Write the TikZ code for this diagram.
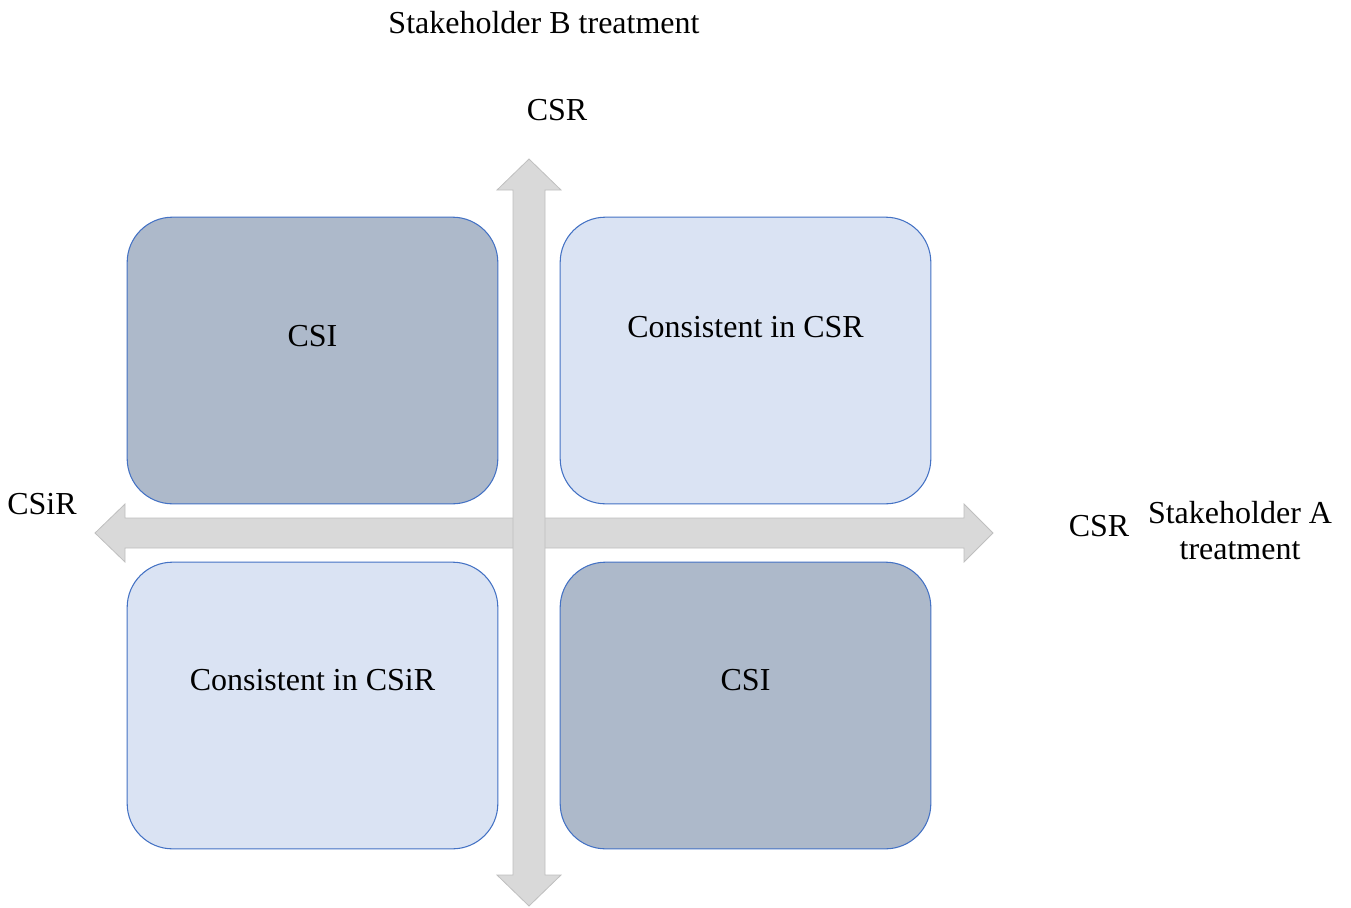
\documentclass[tikz,border=0pt]{standalone}
\usepackage{fontspec}
\setmainfont{Liberation Serif}
\usepackage{xcolor}
\definecolor{quaddark}{RGB}{173, 185, 202}
\definecolor{quadlight}{RGB}{218, 227, 243}
\definecolor{quadedge}{RGB}{68, 114, 196}
\definecolor{axisfill}{RGB}{217, 217, 217}
\definecolor{axisedge}{RGB}{191, 191, 191}
\usepackage{tikz}
\usetikzlibrary{positioning, calc}

\begin{document}
\begin{tikzpicture}[
    x=0.75pt, y=-0.75pt,
    quad/.style={rectangle, rounded corners=34pt, minimum width=278pt, minimum height=215pt, draw=quadedge, line width=0.8pt, inner sep=0pt},
    axisarrow/.style={fill=axisfill, draw=axisedge, line width=0.6pt},
    txt/.style={font=\fontsize{24}{27}\selectfont, inner sep=0pt, align=center}
  ]
    \useasboundingbox (0,0) rectangle (1351,907);
    % quadrants
    \node[quad, fill=quaddark] (csiTL) at (312.5, 360.5) {};
    \node[quad, fill=quadlight] (consCSR) at (745.5, 360.5) {};
    \node[quad, fill=quadlight] (consCSiR) at (312.5, 705.5) {};
    \node[quad, fill=quaddark] (csiBR) at (745.5, 705.5) {};
    % axes
    \draw[axisarrow] (95,533) -- (125,504) -- (125,518) -- (964,518) -- (964,504) -- (993,533)
      -- (964,562) -- (964,548) -- (125,548) -- (125,562) -- cycle;
    \draw[axisarrow] (529,159) -- (561,190) -- (545,190) -- (545,875) -- (561,875) -- (529,906)
      -- (497,875) -- (513,875) -- (513,190) -- (497,190) -- cycle;
    % labels
    \node[txt] (csiTLtext) at ([yshift=18pt]csiTL.center) {CSI};
    \node[txt] (consCSRtext) at ([yshift=25pt]consCSR.center) {Consistent in CSR};
    \node[txt] (consCSiRtext) at ([yshift=19pt]consCSiR.center) {Consistent in CSiR};
    \node[txt] (csiBRtext) at ([yshift=19pt]csiBR.center) {CSI};
    \node[txt] (stakeB) at (544, 23) {Stakeholder B treatment};
    \node[txt] (csrTop) at (557, 110) {CSR};
    \node[txt] (csirLeft) at (42, 504) {CSiR};
    \node[txt] (csrRight) at (1099, 526) {CSR};
    \node[txt] (stakeA) at (1240, 531) {Stakeholder A\\treatment};
  \end{tikzpicture}
\end{document}
